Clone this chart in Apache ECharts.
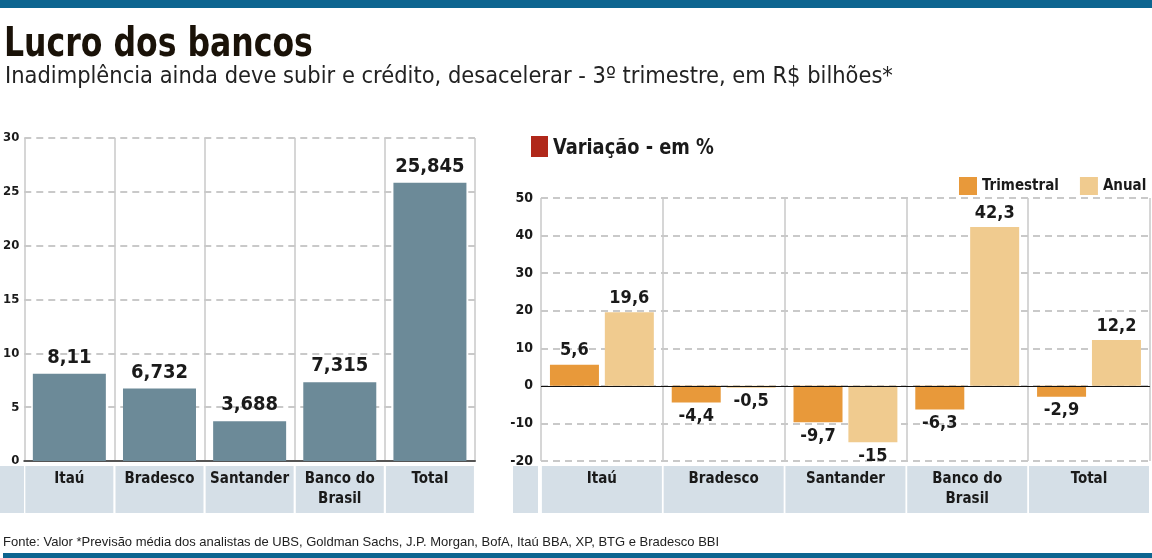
<!DOCTYPE html>
<html>
<head>
<meta charset="utf-8">
<script src="https://cdn.jsdelivr.net/npm/echarts@6/dist/echarts.min.js"></script>
<style>
html,body{margin:0;padding:0;background:#fff;}
#chart{width:1152px;height:558px;}
</style>
</head>
<body>
<div id="chart"></div>
<script>
var categories = ['Itaú', 'Bradesco', 'Santander', 'Banco do\nBrasil', 'Total'];
var lucro = [8.11, 6.732, 3.688, 7.315, 25.845];
var trimestral = [5.6, -4.4, -9.7, -6.3, -2.9];
var anual = [19.6, -0.5, -15, 42.3, 12.2];
var lucroTicks = [0, 30, 5];      // min, max, intervalo
var variacaoTicks = [-20, 50, 10];

var azul = '#0d6590', faixa = '#d5dfe7';
var cond = '"DejaVu Sans Condensed", sans-serif';

function virgula(v){ return String(v).replace('.', ','); }

// posiciona o rótulo abaixo da barra quando negativo
function comRotulo(arr){
	return arr.map(function(v){
		return { value: v, label: { position: v < 0 ? 'bottom' : 'top' } };
	});
}

var myChart = echarts.init(document.getElementById('chart'));

var eixoCategoria = function(gi, larg){
	return {
		type: 'category',
		gridIndex: gi,
		data: categories,
		axisLine: { show: gi == 0, onZero: false, lineStyle: { color: '#555', width: 2 } },
		axisTick: { show: false },
		splitLine: { show: true, interval: 0, lineStyle: { color: '#c8c8c8', width: 1.5 } },
		axisLabel: {
			interval: 0,
			margin: 5,
			color: '#1a1a1a',
			fontFamily: cond,
			fontWeight: 'bold',
			fontSize: 15,
			lineHeight: 20,
			backgroundColor: faixa,
			width: larg,
			height: 44,
			padding: [3, 0, 0, 0],
			verticalAlign: 'top'
		}
	};
};

var eixoValor = function(gi, t, fs, mg){
	return {
		type: 'value',
		gridIndex: gi,
		min: t[0], max: t[1], interval: t[2],
		axisLine: { show: false },
		axisTick: { show: false },
		splitLine: { lineStyle: { color: '#b8b8b8', type: [7, 5], width: 1.5 } },
		axisLabel: { color: '#1a1a1a', fontFamily: cond, fontWeight: 'bold', fontSize: fs, margin: mg }
	};
};

option = {
	animation: false,
	grid: [
		{ left: 23, top: 138, width: 452, height: 323 },
		{ left: 541, top: 198, width: 609, height: 263 }
	],
	xAxis: [ eixoCategoria(0, 88), eixoCategoria(1, 120) ],
	yAxis: [ eixoValor(0, lucroTicks, 13, 5), eixoValor(1, variacaoTicks, 14, 8) ],
	legend: {
		data: ['Trimestral', 'Anual'],
		left: 954, top: 172, width: 300,
		itemWidth: 18, itemHeight: 18,
		itemGap: 21,
		icon: 'rect',
		textStyle: { fontFamily: cond, fontWeight: 'bold', fontSize: 15, color: '#1a1a1a' }
	},
	series: [
		{
			name: 'Lucro',
			type: 'bar',
			xAxisIndex: 0, yAxisIndex: 0,
			barWidth: 73,
			itemStyle: { color: '#6c8a98' },
			label: {
				show: true, position: 'top', distance: 6,
				fontFamily: cond, fontWeight: 'bold', fontSize: 20, color: '#1a1a1a',
				formatter: function(p){ return virgula(p.value); }
			},
			data: lucro
		},
		{
			name: 'Trimestral',
			type: 'bar',
			xAxisIndex: 1, yAxisIndex: 1,
			barWidth: 49,
			barGap: '12%',
			itemStyle: { color: '#e8993a' },
			label: {
				show: true, distance: 5,
				fontFamily: cond, fontWeight: 'bold', fontSize: 18, color: '#1a1a1a',
				formatter: function(p){ return virgula(p.value); }
			},
			markLine: {
				silent: true, symbol: 'none', label: { show: false },
				lineStyle: { color: '#111', type: 'solid', width: 1.2 },
				data: [{ yAxis: 0 }]
			},
			data: comRotulo(trimestral)
		},
		{
			name: 'Anual',
			type: 'bar',
			xAxisIndex: 1, yAxisIndex: 1,
			barWidth: 49,
			itemStyle: { color: '#f0cb8f' },
			label: {
				show: true, distance: 5,
				fontFamily: cond, fontWeight: 'bold', fontSize: 18, color: '#1a1a1a',
				formatter: function(p){ return virgula(p.value); }
			},
			data: comRotulo(anual)
		}
	],
	graphic: [
		{ type: 'rect', left: 0, top: 0, shape: { width: 1152, height: 8 }, style: { fill: azul } },
		{ type: 'rect', left: 3, top: 553, shape: { width: 1149, height: 5 }, style: { fill: azul } },
		{ type: 'text', x: 4, y: 25, scaleX: 0.855, style: { text: 'Lucro dos bancos', fontFamily: cond, fontWeight: 'bold', fontSize: 41, fill: '#1a1208' } },
		{ type: 'text', x: 5, y: 65, style: { text: 'Inadimplência ainda deve subir e crédito, desacelerar - 3º trimestre, em R$ bilhões*', fontFamily: cond, fontSize: 23.4, fill: '#222' } },
		{ type: 'rect', left: 0, top: 466, shape: { width: 24, height: 47 }, style: { fill: faixa } },
		{ type: 'rect', left: 513, top: 466, shape: { width: 25, height: 47 }, style: { fill: faixa } },
		{ type: 'rect', left: 531, top: 136, shape: { width: 17, height: 21 }, style: { fill: '#b0281a' } },
		{ type: 'text', x: 553, y: 137, scaleX: 0.9, style: { text: 'Variação - em %', fontFamily: cond, fontWeight: 'bold', fontSize: 22, fill: '#1a1a1a' } },
		{ type: 'text', left: 3, top: 536, style: { text: 'Fonte: Valor *Previsão média dos analistas de UBS, Goldman Sachs, J.P. Morgan, BofA, Itaú BBA, XP, BTG e Bradesco BBI', fontFamily: '"Liberation Sans", sans-serif', fontSize: 13, fill: '#222' } }
	]
};

myChart.setOption(option);
</script>
</body>
</html>
